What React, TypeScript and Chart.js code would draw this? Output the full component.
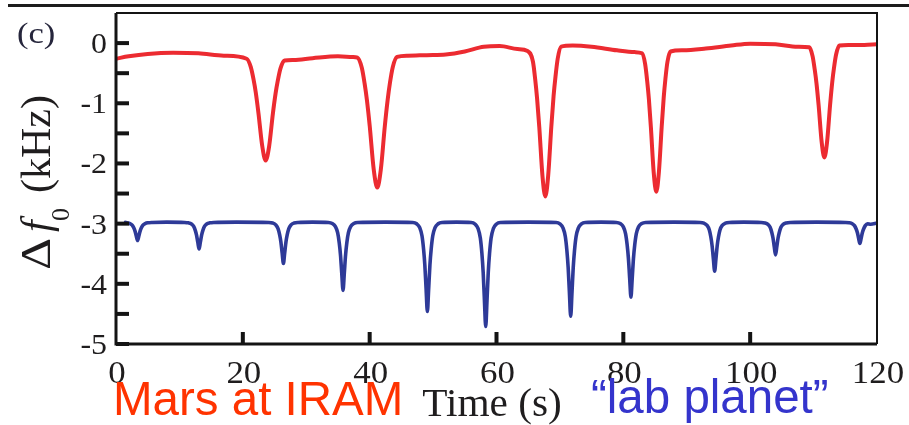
import { useEffect, useRef } from "react";
import { Chart, registerables } from "chart.js";

Chart.register(...registerables);

// Frequency shift Δf0 (kHz) versus time (s)
// Red trace: Mars observed at IRAM
const marsTime = [
  0, 2, 5, 9, 13, 17,
  20.6, 21.26, 21.68, 22.04, 22.46, 23.06, 23.6, 24.14, 24.74, 25.16, 25.52, 25.94, 26.6,
  28, 31, 35, 37.3,
  38.07, 38.76, 39.2, 39.57, 40.01, 40.64, 41.2, 41.76, 42.39, 42.83, 43.2, 43.64, 44.33,
  46, 49, 52, 55, 58, 60.5, 63.3,
  64.9, 65.75, 66.1, 66.4, 66.75, 67.25, 67.7, 68.15, 68.65, 69.0, 69.3, 69.65, 70.2,
  72, 75, 79, 81.8,
  82.95, 83.44, 83.76, 84.03, 84.34, 84.79, 85.2, 85.61, 86.06, 86.37, 86.64, 86.96, 87.45,
  89.4, 93, 97, 100, 104, 107.5,
  109.32, 109.85, 110.18, 110.46, 110.8, 111.27, 111.7, 112.13, 112.6, 112.94, 113.22, 113.55, 114.08,
  115.5, 118, 120,
];
const marsShift = [
  -0.26, -0.22, -0.18, -0.16, -0.17, -0.21,
  -0.26, -0.4, -0.6, -0.82, -1.16, -1.71, -1.95, -1.72, -1.17, -0.84, -0.62, -0.42, -0.29,
  -0.28, -0.25, -0.22, -0.23,
  -0.24, -0.41, -0.67, -0.95, -1.38, -2.1, -2.4, -2.1, -1.38, -0.95, -0.66, -0.4, -0.23,
  -0.21, -0.2, -0.19, -0.14, -0.06, -0.05, -0.1,
  -0.13, -0.31, -0.6, -0.92, -1.4, -2.21, -2.55, -2.2, -1.38, -0.88, -0.56, -0.26, -0.06,
  -0.04, -0.06, -0.12, -0.15,
  -0.17, -0.35, -0.63, -0.93, -1.39, -2.15, -2.47, -2.14, -1.37, -0.9, -0.59, -0.31, -0.14,
  -0.12, -0.09, -0.04, -0.01, -0.02, -0.06,
  -0.07, -0.22, -0.44, -0.67, -1.04, -1.64, -1.9, -1.64, -1.03, -0.65, -0.41, -0.19, -0.04,
  -0.03, -0.03, -0.02,
];

// Blue trace: the "lab planet"
const labTime = [
  1.5, 1.7, 2.2, 2.55, 2.8, 3.0, 3.2, 3.4, 3.6, 3.8, 4.0, 4.25, 4.6, 5.1, 5.7,
  8,
  10.8, 11.4, 11.9, 12.25, 12.5, 12.7, 12.9, 13.1, 13.3, 13.5, 13.7, 13.95, 14.3, 14.8, 15.4,
  19,
  24.1, 24.7, 25.2, 25.55, 25.8, 26.0, 26.2, 26.4, 26.6, 26.8, 27.0, 27.25, 27.6, 28.1, 28.7,
  31,
  33.5, 34.1, 34.6, 34.95, 35.2, 35.4, 35.6, 35.8, 36.0, 36.2, 36.4, 36.65, 37.0, 37.5, 38.1,
  42.5,
  46.8, 47.4, 47.9, 48.25, 48.5, 48.7, 48.9, 49.1, 49.3, 49.5, 49.7, 49.95, 50.3, 50.8, 51.4,
  53.7,
  56.0, 56.6, 57.1, 57.45, 57.7, 57.9, 58.1, 58.3, 58.5, 58.7, 58.9, 59.15, 59.5, 60.0, 60.6,
  65,
  69.4, 70.0, 70.5, 70.85, 71.1, 71.3, 71.5, 71.7, 71.9, 72.1, 72.3, 72.55, 72.9, 73.4, 74.0,
  76.5,
  78.9, 79.5, 80.0, 80.35, 80.6, 80.8, 81.0, 81.2, 81.4, 81.6, 81.8, 82.05, 82.4, 82.9, 83.5,
  88,
  92.1, 92.7, 93.2, 93.55, 93.8, 94.0, 94.2, 94.4, 94.6, 94.8, 95.0, 95.25, 95.6, 96.1, 96.7,
  99,
  101.7, 102.3, 102.8, 103.15, 103.4, 103.6, 103.8, 104.0, 104.2, 104.4, 104.6, 104.85, 105.2, 105.7, 106.3,
  110.5,
  115.0, 115.6, 116.1, 116.45, 116.7, 116.9, 117.1, 117.3, 117.5, 117.7, 117.9, 118.15, 118.5, 119.0, 120,
];
const labShift = [
  -2.98, -2.985, -2.998, -3.025, -3.07, -3.124, -3.205, -3.28, -3.205, -3.124, -3.07, -3.025, -2.998, -2.985, -2.98,
  -2.975,
  -2.98, -2.987, -3.006, -3.046, -3.112, -3.191, -3.31, -3.42, -3.31, -3.191, -3.112, -3.046, -3.006, -2.987, -2.98,
  -2.975,
  -2.98, -2.99, -3.021, -3.082, -3.184, -3.306, -3.49, -3.66, -3.49, -3.306, -3.184, -3.082, -3.021, -2.99, -2.98,
  -2.975,
  -2.98, -2.997, -3.048, -3.15, -3.319, -3.522, -3.828, -4.11, -3.828, -3.522, -3.319, -3.15, -3.048, -2.997, -2.98,
  -2.975,
  -2.98, -3.002, -3.069, -3.202, -3.424, -3.69, -4.09, -4.46, -4.09, -3.69, -3.424, -3.202, -3.069, -3.002, -2.98,
  -2.975,
  -2.98, -3.006, -3.084, -3.24, -3.499, -3.81, -4.28, -4.71, -4.28, -3.81, -3.499, -3.24, -3.084, -3.006, -2.98,
  -2.975,
  -2.98, -3.003, -3.074, -3.214, -3.448, -3.729, -4.15, -4.54, -4.15, -3.729, -3.448, -3.214, -3.074, -3.003, -2.98,
  -2.975,
  -2.98, -2.999, -3.054, -3.166, -3.352, -3.575, -3.91, -4.22, -3.91, -3.575, -3.352, -3.166, -3.054, -2.999, -2.98,
  -2.975,
  -2.98, -2.992, -3.029, -3.102, -3.223, -3.369, -3.588, -3.79, -3.588, -3.369, -3.223, -3.102, -3.029, -2.992, -2.98,
  -2.975,
  -2.98, -2.988, -3.012, -3.061, -3.142, -3.239, -3.385, -3.52, -3.385, -3.239, -3.142, -3.061, -3.012, -2.988, -2.98,
  -2.975,
  -2.98, -2.985, -3.001, -3.033, -3.085, -3.148, -3.243, -3.33, -3.243, -3.148, -3.085, -3.033, -3.001, -3.01, -2.99,
];

// Axis ranges and tick spacing
const xMin = 0;
const xMax = 120;
const xStep = 20;
const yMin = -5;
const yMax = 0.5;
const yStep = 0.5;

const SERIF = '"Liberation Serif", "Times New Roman", Times, serif';
const SANS = '"Liberation Sans", Arial, Helvetica, sans-serif';
const INK = "#1f1d1e";

function wideText(
  ctx: CanvasRenderingContext2D,
  text: string,
  x: number,
  y: number,
  sx: number,
  align: CanvasTextAlign
) {
  ctx.save();
  ctx.translate(x, y);
  ctx.scale(sx, 1);
  ctx.textAlign = align;
  ctx.textBaseline = "alphabetic";
  ctx.fillText(text, 0, 0);
  ctx.restore();
}

const framePlugin = {
  id: "frameAndLabels",
  afterDraw(chart: any) {
    const { ctx, chartArea: a, scales } = chart;
    const xs = scales.x;
    const ys = scales.y;
    ctx.save();

    // rule left over from the panel above
    ctx.fillStyle = "#1c1c1c";
    ctx.fillRect(8, 4, 901, 3);

    // plot frame
    ctx.strokeStyle = "#141414";
    ctx.lineWidth = 2;
    ctx.beginPath();
    ctx.moveTo(a.left, a.top);
    ctx.lineTo(a.right, a.top);
    ctx.lineTo(a.right, a.bottom);
    ctx.stroke();
    ctx.lineWidth = 3;
    ctx.beginPath();
    ctx.moveTo(a.left, a.top);
    ctx.lineTo(a.left, a.bottom);
    ctx.lineTo(a.right, a.bottom);
    ctx.stroke();

    // inward tick marks
    ctx.fillStyle = "#141414";
    ys.ticks.forEach((t: any) => {
      if (t.value >= yMax) return;
      const py = ys.getPixelForValue(t.value);
      ctx.fillRect(a.left, py - 2, 13, 4);
    });
    xs.ticks.forEach((t: any) => {
      if (t.value <= xMin || t.value >= xMax) return;
      const px = xs.getPixelForValue(t.value);
      ctx.fillRect(px - 2, a.bottom - 12, 4, 12);
    });

    // tick labels
    ctx.fillStyle = INK;
    ctx.font = `29px ${SERIF}`;
    ys.ticks.forEach((t: any) => {
      if (!Number.isInteger(t.value) || t.value > 0) return;
      const py = ys.getPixelForValue(t.value);
      wideText(ctx, String(t.value), a.left - 9, py + 10, 1.1, "right");
    });
    ctx.font = `32px ${SERIF}`;
    xs.ticks.forEach((t: any) => {
      const px = xs.getPixelForValue(t.value);
      wideText(ctx, String(t.value), px + 1, 383, 1.09, "center");
    });

    // axis titles
    ctx.font = `39px ${SERIF}`;
    wideText(ctx, "Time (s)", 492, 416, 1.06, "center");

    ctx.save();
    ctx.translate(50, 270);
    ctx.rotate(-Math.PI / 2);
    ctx.textBaseline = "alphabetic";
    ctx.textAlign = "left";
    ctx.font = `42px ${SERIF}`;
    const dw = ctx.measureText("Δ").width;
    ctx.save();
    ctx.scale(32 / dw, 1);
    ctx.fillText("Δ", 0, 0);
    ctx.restore();
    ctx.font = `italic 42px ${SERIF}`;
    ctx.fillText("f", 38, 0);
    ctx.font = `26px ${SERIF}`;
    ctx.fillText("0", 49, 19);
    ctx.font = `42px ${SERIF}`;
    ctx.fillText("(kHz)", 77, 0);
    ctx.restore();

    // panel tag
    ctx.fillStyle = "#26263c";
    ctx.font = `30px ${SERIF}`;
    wideText(ctx, "(c)", 17, 43, 1.15, "left");

    // trace captions
    ctx.font = `47.5px ${SANS}`;
    ctx.fillStyle = "#ff3300";
    wideText(ctx, "Mars at IRAM", 113, 415, 1, "left");
    ctx.fillStyle = "#3434cc";
    wideText(ctx, "\u201Clab planet\u201D", 591, 413, 1, "left");

    ctx.restore();
  },
};

export default function App() {
  const canvasRef = useRef<HTMLCanvasElement | null>(null);

  useEffect(() => {
    const canvas = canvasRef.current;
    if (!canvas) return;
    const chart = new Chart(canvas, {
      type: "line",
      data: {
        datasets: [
          {
            label: "Mars at IRAM",
            data: marsTime.map((t, i) => ({ x: t, y: marsShift[i] })),
            borderColor: "#ec2b31",
            borderWidth: 4,
            pointRadius: 0,
            cubicInterpolationMode: "monotone",
            borderJoinStyle: "round",
            borderCapStyle: "round",
            fill: false,
          },
          {
            label: "lab planet",
            data: labTime.map((t, i) => ({ x: t, y: labShift[i] })),
            borderColor: "#2e3a98",
            borderWidth: 3.6,
            pointRadius: 0,
            cubicInterpolationMode: "monotone",
            borderJoinStyle: "round",
            borderCapStyle: "round",
            fill: false,
          },
        ],
      },
      options: {
        animation: false,
        responsive: false,
        devicePixelRatio: 1,
        layout: { padding: { left: 108, top: 13, right: 32, bottom: 73 } },
        plugins: {
          legend: { display: false },
          tooltip: { enabled: false },
          title: { display: false },
        },
        scales: {
          x: {
            type: "linear",
            min: xMin,
            max: xMax,
            ticks: { stepSize: xStep, display: false },
            grid: { display: false },
            border: { display: false },
          },
          y: {
            type: "linear",
            min: yMin,
            max: yMax,
            ticks: { stepSize: yStep, display: false },
            grid: { display: false },
            border: { display: false },
          },
        },
      },
      plugins: [framePlugin],
    });
    return () => chart.destroy();
  }, []);

  return (
    <div
      style={{
        position: "fixed",
        left: 0,
        top: 0,
        width: 909,
        height: 425,
        background: "#ffffff",
      }}
    >
      <canvas ref={canvasRef} width={909} height={425} style={{ display: "block" }} />
    </div>
  );
}
